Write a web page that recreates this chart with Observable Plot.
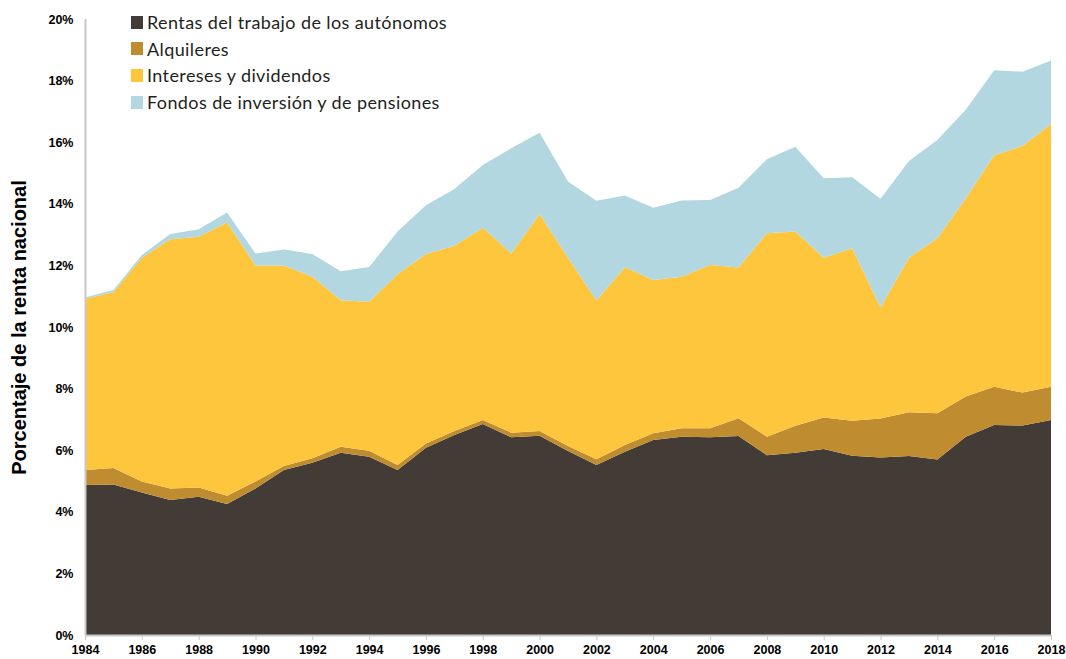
<!DOCTYPE html>
<html>
<head>
<meta charset="utf-8">
<script src="https://cdn.jsdelivr.net/npm/d3@7"></script>
<script src="https://cdn.jsdelivr.net/npm/@observablehq/plot@0.6"></script>
<style>
  html, body { margin: 0; padding: 0; background: #fff; }
  #wrap { position: relative; width: 1066px; height: 659px; }
  #legend { position: absolute; left: 131px; top: 9px; font-family: Lato, "Open Sans", sans-serif; font-size: 18px; letter-spacing: 0.4px; color: #231f20; }
  #legend .row { display: flex; align-items: center; height: 26.6px; }
  #legend .sw { width: 12px; height: 13px; margin-right: 4px; }
  svg text { font-family: "Liberation Sans", Arial, sans-serif; }
  g[aria-label="y-axis label"] text { font-size: 20px; font-weight: bold; fill: #000; }
</style>
</head>
<body>
<div id="wrap"><div id="chart"></div><div id="legend"></div></div>
<script>
const years = [1984,1985,1986,1987,1988,1989,1990,1991,1992,1993,1994,1995,1996,1997,1998,1999,2000,2001,2002,2003,2004,2005,2006,2007,2008,2009,2010,2011,2012,2013,2014,2015,2016,2017,2018];
const rentasAutonomos = [4.87,4.89,4.63,4.38,4.49,4.25,4.76,5.36,5.59,5.92,5.79,5.36,6.08,6.49,6.85,6.42,6.47,5.97,5.52,5.95,6.33,6.44,6.42,6.46,5.84,5.92,6.04,5.82,5.76,5.81,5.70,6.44,6.82,6.80,6.98];
const alquileres = [0.49,0.53,0.35,0.38,0.30,0.27,0.22,0.13,0.15,0.19,0.19,0.16,0.14,0.13,0.13,0.15,0.15,0.17,0.19,0.22,0.22,0.27,0.29,0.58,0.60,0.87,1.02,1.14,1.27,1.42,1.50,1.30,1.24,1.07,1.08];
const interesesDividendos = [5.56,5.71,7.27,8.09,8.14,8.87,7.02,6.51,5.89,4.76,4.84,6.19,6.15,6.02,6.24,5.82,7.05,6.11,5.15,5.77,4.98,4.92,5.30,4.89,6.60,6.31,5.19,5.60,3.60,5.02,5.68,6.44,7.52,8.01,8.53];
const fondosInversion = [0.04,0.07,0.09,0.17,0.24,0.33,0.39,0.52,0.74,0.94,1.13,1.39,1.58,1.84,2.04,3.41,2.64,2.47,3.24,2.33,2.34,2.48,2.11,2.59,2.41,2.75,2.58,2.30,3.53,3.14,3.19,2.87,2.76,2.41,2.06];
const seriesNames = ["Rentas del trabajo de los autónomos","Alquileres","Intereses y dividendos","Fondos de inversión y de pensiones"];
const seriesColors = ["#433b36","#c08c30","#fdc63d","#b3d7e1"];
const xTicks = [1984,1986,1988,1990,1992,1994,1996,1998,2000,2002,2004,2006,2008,2010,2012,2014,2016,2018];
const yTicks = [0,2,4,6,8,10,12,14,16,18,20];

const seriesValues = [rentasAutonomos, alquileres, interesesDividendos, fondosInversion];
const data = years.flatMap((yr, i) => seriesNames.map((s, j) => ({year: yr, serie: s, value: seriesValues[j][i]})));

const chart = Plot.plot({
  width: 1066,
  height: 659,
  marginLeft: 85,
  marginRight: 15,
  marginTop: 19,
  marginBottom: 24,
  style: {fontFamily: '"Liberation Sans", Arial, sans-serif', background: "#fff"},
  x: {domain: [years[0], years[years.length - 1]], label: null},
  y: {domain: [yTicks[0], yTicks[yTicks.length - 1]], label: null},
  color: {domain: seriesNames, range: seriesColors},
  marks: [
    Plot.areaY(data, {x: "year", y: "value", fill: "serie", z: "serie"}),
    Plot.ruleX([years[0]], {stroke: "#c8c8c8", strokeWidth: 2}),
    Plot.ruleY([yTicks[0]], {stroke: "#c8c8c8", strokeWidth: 2}),
    Plot.axisX({ticks: xTicks, tickFormat: d => String(d), tickSize: 5, tickPadding: 5, stroke: "#c8c8c8", fill: "#000", fontSize: 12.5, fontWeight: "bold", label: null}),
    Plot.axisY({ticks: yTicks, tickFormat: d => d + "%", tickSize: 0, tickPadding: 12, fill: "#000", fontSize: 12.5, fontWeight: "bold", label: "Porcentaje de la renta nacional", labelAnchor: "center", labelOffset: 74, labelArrow: "none"})
  ]
});
document.getElementById("chart").appendChild(chart);

const legend = document.getElementById("legend");
seriesNames.forEach((name, i) => {
  const row = document.createElement("div");
  row.className = "row";
  const sw = document.createElement("div");
  sw.className = "sw";
  sw.style.background = seriesColors[i];
  const t = document.createElement("span");
  t.textContent = name;
  row.appendChild(sw);
  row.appendChild(t);
  legend.appendChild(row);
});
</script>
</body>
</html>
